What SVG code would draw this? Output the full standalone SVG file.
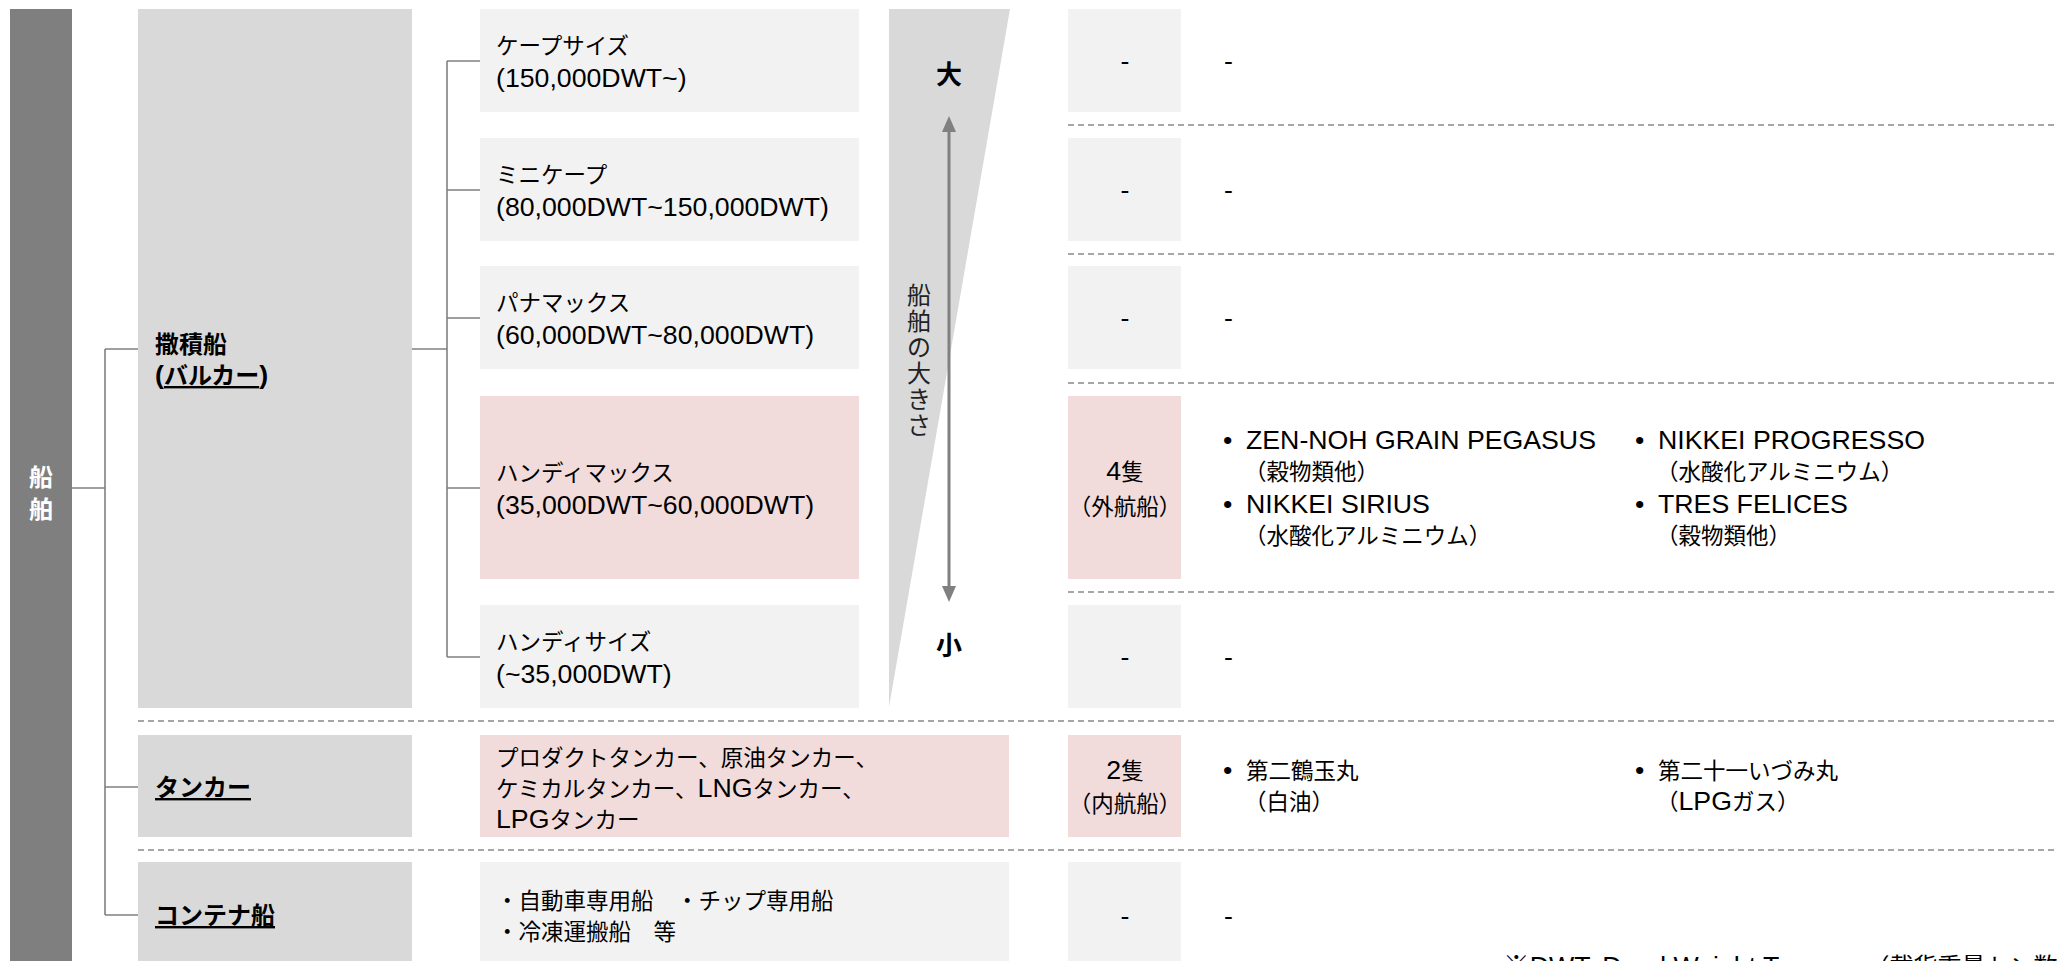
<svg xmlns="http://www.w3.org/2000/svg" width="2058" height="961" viewBox="0 0 2058 961">
<style>
.t{font-family:"Liberation Sans","Noto Sans CJK JP",sans-serif;font-size:22.5px;fill:#000}
.en{font-size:26.7px}
.b{font-weight:bold;font-size:24px}
.w{fill:#fff}
.c{text-anchor:middle}
.bar{fill:#7f7f7f}
.lvl{fill:#d9d9d9}
.sub{fill:#f2f2f2}
.pink{fill:#f2dcdb}
.conn{stroke:#808080;stroke-width:1.6;fill:none}
.dash{stroke:#a6a6a6;stroke-width:2;stroke-dasharray:6 4;fill:none}
</style>
<defs>
<marker id="ah" viewBox="0 0 16 16" refX="8" refY="8" markerWidth="16" markerHeight="16" markerUnits="userSpaceOnUse" orient="auto-start-reverse">
<path d="M0,1 L16,8 L0,15 Z" fill="#808080"/>
</marker>
</defs>
<rect width="2058" height="961" fill="#fff"/>

<g id="separators">
<line class="dash" x1="1068" y1="125" x2="2058" y2="125"/>
<line class="dash" x1="1068" y1="254" x2="2058" y2="254"/>
<line class="dash" x1="1068" y1="383" x2="2058" y2="383"/>
<line class="dash" x1="1068" y1="592" x2="2058" y2="592"/>
<line class="dash" x1="138" y1="721" x2="2058" y2="721"/>
<line class="dash" x1="138" y1="850" x2="2058" y2="850"/>
</g>

<g id="connectors">
<path class="conn" d="M72,488 H105"/>
<path class="conn" d="M105,349 V915"/>
<path class="conn" d="M105,349 H138 M105,787 H138 M105,915 H138"/>
<path class="conn" d="M412,349 H447"/>
<path class="conn" d="M447,61 V657"/>
<path class="conn" d="M447,61 H480 M447,190 H480 M447,318 H480 M447,488 H480 M447,657 H480"/>
</g>

<g id="node-ship">
<rect class="bar" x="10" y="9" width="62" height="960"/>
<text class="t b w c" x="41" y="486">船</text>
<text class="t b w c" x="41" y="518">舶</text>
</g>

<g id="node-bulk">
<rect class="lvl" x="138" y="9" width="274" height="699"/>
<text class="t b" x="155" y="353">撒積船</text>
<text class="t b" x="155" y="384" text-decoration="underline"><tspan class="en">(</tspan>バルカー<tspan class="en">)</tspan></text>
</g>

<g id="node-tanker">
<rect class="lvl" x="138" y="735" width="274" height="102"/>
<text class="t b" x="155" y="796" text-decoration="underline">タンカー</text>
</g>

<g id="node-container">
<rect class="lvl" x="138" y="862" width="274" height="110"/>
<text class="t b" x="155" y="924" text-decoration="underline">コンテナ船</text>
</g>

<g id="node-cape">
<rect class="sub" x="480" y="9" width="379" height="103"/>
<text class="t" x="496" y="54">ケープサイズ</text>
<text class="t en" x="496" y="87">(150,000DWT~)</text>
</g>

<g id="node-minicape">
<rect class="sub" x="480" y="138" width="379" height="103"/>
<text class="t" x="496" y="183">ミニケープ</text>
<text class="t en" x="496" y="216">(80,000DWT~150,000DWT)</text>
</g>

<g id="node-panamax">
<rect class="sub" x="480" y="266" width="379" height="103"/>
<text class="t" x="496" y="311">パナマックス</text>
<text class="t en" x="496" y="344">(60,000DWT~80,000DWT)</text>
</g>

<g id="node-handymax">
<rect class="pink" x="480" y="396" width="379" height="183"/>
<text class="t" x="496" y="481">ハンディマックス</text>
<text class="t en" x="496" y="514">(35,000DWT~60,000DWT)</text>
</g>

<g id="node-handysize">
<rect class="sub" x="480" y="605" width="379" height="103"/>
<text class="t" x="496" y="650">ハンディサイズ</text>
<text class="t en" x="496" y="683">(~35,000DWT)</text>
</g>

<g id="node-tanker-types">
<rect class="pink" x="480" y="735" width="529" height="102"/>
<text class="t" x="496" y="766">プロダクトタンカー、原油タンカー、</text>
<text class="t" x="496" y="797">ケミカルタンカー、<tspan class="en">LNG</tspan>タンカー、</text>
<text class="t" x="496" y="828"><tspan class="en">LPG</tspan>タンカー</text>
</g>

<g id="node-container-types">
<rect class="sub" x="480" y="862" width="529" height="110"/>
<text class="t" x="496" y="909">・自動車専用船　・チップ専用船</text>
<text class="t" x="496" y="940">・冷凍運搬船　等</text>
</g>

<g id="node-size-scale">
<polygon points="889,9 1010,9 889,707" fill="#d9d9d9"/>
<line x1="949" y1="124" x2="949" y2="594" stroke="#808080" stroke-width="3" marker-start="url(#ah)" marker-end="url(#ah)"/>
<text class="t b c" x="949" y="84" style="font-size:26px">大</text>
<text class="t b c" x="949" y="655" style="font-size:26px">小</text>
<text class="t c" x="919" style="font-size:24px;fill:#222"><tspan x="919" y="304">船</tspan><tspan x="919" y="330">舶</tspan><tspan x="919" y="356">の</tspan><tspan x="919" y="382">大</tspan><tspan x="919" y="408">き</tspan><tspan x="919" y="434">さ</tspan></text>
</g>

<g id="node-count-cape">
<rect class="sub" x="1068" y="9" width="113" height="103"/>
<text class="t en c" x="1125" y="70">-</text>
<text class="t en" x="1224" y="70">-</text>
</g>
<g id="node-count-minicape">
<rect class="sub" x="1068" y="138" width="113" height="103"/>
<text class="t en c" x="1125" y="199">-</text>
<text class="t en" x="1224" y="199">-</text>
</g>
<g id="node-count-panamax">
<rect class="sub" x="1068" y="266" width="113" height="103"/>
<text class="t en c" x="1125" y="327">-</text>
<text class="t en" x="1224" y="327">-</text>
</g>
<g id="node-count-handymax">
<rect class="pink" x="1068" y="396" width="113" height="183"/>
<text class="t c" x="1125" y="480"><tspan class="en">4</tspan>隻</text>
<text class="t c" x="1125" y="515">（外航船）</text>
</g>
<g id="node-ships-handymax">
<text class="t en" x="1223" y="449">•</text>
<text class="t en" x="1246" y="449">ZEN-NOH GRAIN PEGASUS</text>
<text class="t" x="1244" y="480">（穀物類他）</text>
<text class="t en" x="1223" y="513">•</text>
<text class="t en" x="1246" y="513">NIKKEI SIRIUS</text>
<text class="t" x="1244" y="544">（水酸化アルミニウム）</text>
<text class="t en" x="1635" y="449">•</text>
<text class="t en" x="1658" y="449">NIKKEI PROGRESSO</text>
<text class="t" x="1656" y="480">（水酸化アルミニウム）</text>
<text class="t en" x="1635" y="513">•</text>
<text class="t en" x="1658" y="513">TRES FELICES</text>
<text class="t" x="1656" y="544">（穀物類他）</text>
</g>
<g id="node-count-handysize">
<rect class="sub" x="1068" y="605" width="113" height="103"/>
<text class="t en c" x="1125" y="666">-</text>
<text class="t en" x="1224" y="666">-</text>
</g>
<g id="node-count-tanker">
<rect class="pink" x="1068" y="735" width="113" height="102"/>
<text class="t c" x="1125" y="779"><tspan class="en">2</tspan>隻</text>
<text class="t c" x="1125" y="812">（内航船）</text>
</g>
<g id="node-ships-tanker">
<text class="t en" x="1223" y="779">•</text>
<text class="t" x="1246" y="779">第二鶴玉丸</text>
<text class="t" x="1244" y="810">（白油）</text>
<text class="t en" x="1635" y="779">•</text>
<text class="t" x="1658" y="779">第二十一いづみ丸</text>
<text class="t" x="1656" y="810">（<tspan class="en">LPG</tspan>ガス）</text>
</g>
<g id="node-count-container">
<rect class="sub" x="1068" y="862" width="113" height="110"/>
<text class="t en c" x="1125" y="925">-</text>
<text class="t en" x="1224" y="925">-</text>
</g>

<text class="t en" x="1503" y="975">※DWT: Dead Weight Tonnage<tspan style="font-size:24px">（載貨重量トン数）</tspan></text>
</svg>
